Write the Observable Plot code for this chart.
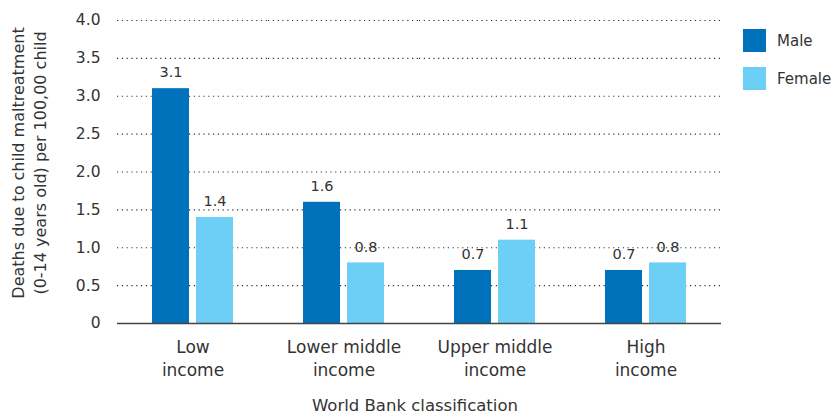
<!DOCTYPE html>
<html><head><meta charset="utf-8">
<script src="https://cdn.jsdelivr.net/npm/d3@7"></script>
<script src="https://cdn.jsdelivr.net/npm/@observablehq/plot@0.6"></script>
<style>body{margin:0;background:#fff} #chart svg{font-family:"DejaVu Sans";display:block}</style>
</head><body><div id="chart"></div>
<script>
const groups = ["Low income","Lower middle income","Upper middle income","High income"];
const groupLabels = ["Low\nincome","Lower middle\nincome","Upper middle\nincome","High\nincome"];
const sexes = ["Male","Female"];
const maleValues = [3.1,1.6,0.7,0.7];
const femaleValues = [1.4,0.8,1.1,0.8];
const yTicks = [0,0.5,1,1.5,2,2.5,3,3.5,4];
const colors = ["#0072BC","#6DCFF6"];
const yTitle = ["Deaths due to child maltreatment","(0-14 years old) per 100,00 child"];
const xTitle = "World Bank classification";

const data = groups.flatMap((g,i)=>[
  {group:g, sex:"Male", value:maleValues[i]},
  {group:g, sex:"Female", value:femaleValues[i]}
]);

const W=832,H=414, mL=115, mR=110, mT=20, mB=91;
const textColor = "#333";
const chart = Plot.plot({
  width:W, height:H, marginLeft:mL, marginRight:mR, marginTop:mT, marginBottom:mB,
  style:{fontFamily:"DejaVu Sans", background:"#fff", color:textColor},
  fx:{domain:groups, padding:0, label:null},
  x:{domain:sexes, paddingInner:0.156, paddingOuter:0.764, axis:null},
  y:{domain:[0,4], label:null},
  color:{domain:sexes, range:colors},
  marks:[
    Plot.gridY(yTicks.filter(d=>d>0), {stroke:"#333", strokeOpacity:1, strokeDasharray:"1.2,3.6", strokeWidth:1.1}),
    Plot.barY(data,{fx:"group", x:"sex", y:"value", fill:"sex"}),
    Plot.ruleY([0],{stroke:"#444", strokeWidth:1.5}),
    Plot.text(data,{fx:"group", x:"sex", y:"value", text:d=>d.value.toFixed(1), dy:-16, fontSize:14.5, fill:textColor}),
    Plot.axisY(yTicks,{tickSize:0, tickPadding:17, fontSize:15.5, fill:textColor, tickFormat:d=>d===0?"0":d.toFixed(1), label:null}),
    Plot.axisFx({anchor:"bottom", tickSize:0, tickPadding:13, fontSize:17, lineHeight:1.35, fill:textColor, tickFormat:d=>groupLabels[groups.indexOf(d)], label:null})
  ]
});
document.getElementById("chart").appendChild(chart);

const svg = d3.select(chart);
// y title (two lines, rotated)
const yt = svg.append("text")
  .attr("transform","translate(18,163) rotate(-90)")
  .attr("text-anchor","middle").attr("fill",textColor)
  .attr("font-size",16).attr("font-family","DejaVu Sans");
yTitle.forEach((t,i)=>yt.append("tspan").attr("x",0).attr("dy", i===0 ? "0.35em" : "1.4em").text(t));
// x title
svg.append("text").attr("x", 415).attr("y", 405).attr("dy","0.35em")
  .attr("text-anchor","middle").attr("fill",textColor)
  .attr("font-size",16.5).attr("font-family","DejaVu Sans").text(xTitle);
// legend
const lg = svg.append("g");
sexes.forEach((s,i)=>{
  const y0 = 29 + i*38;
  lg.append("rect").attr("x",743).attr("y",y0).attr("width",23).attr("height",23).attr("fill",colors[i]);
  lg.append("text").attr("x",777).attr("y",y0+11.5).attr("dy","0.35em").attr("fill",textColor)
    .attr("text-anchor","start")
    .attr("font-size",15).attr("font-family","DejaVu Sans").text(s);
});
</script>
</body></html>
